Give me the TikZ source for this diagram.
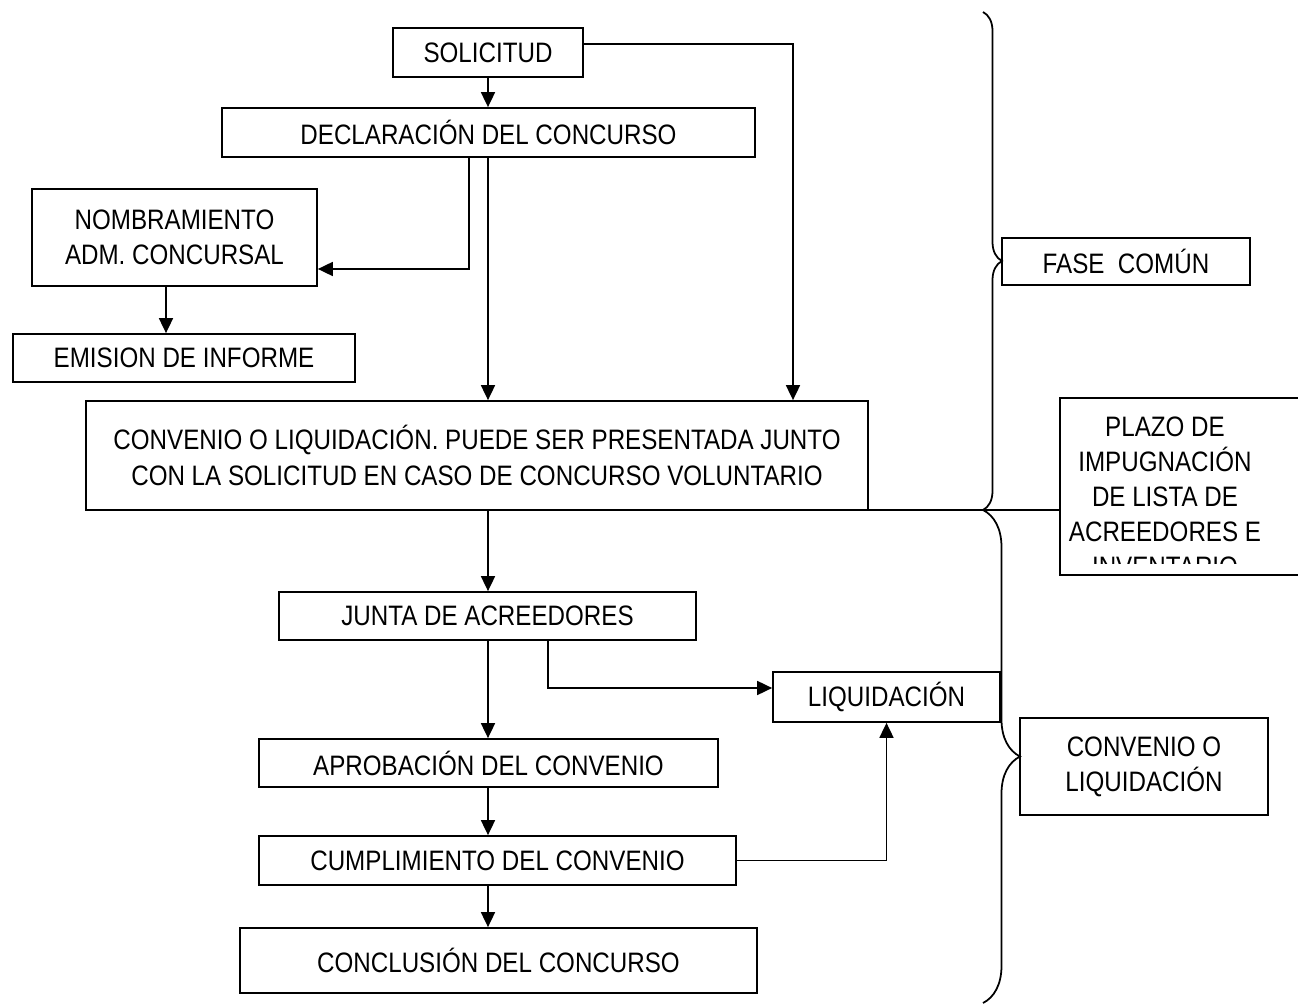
\documentclass[tikz,border=0pt]{standalone}
\usepackage{fontspec}
\setmainfont{Liberation Sans}[FakeStretch=0.86]
\usetikzlibrary{arrows.meta,decorations.pathreplacing}

\begin{document}
\begin{tikzpicture}[x=0.02cm,y=-0.02cm,
		caja/.style={draw,line width=1pt,inner sep=0pt,align=center,font=\fontsize{16}{20}\selectfont},
		flecha/.style={line width=1pt,-{Triangle[length=0.3cm,width=0.28cm]}},
		linea/.style={line width=1pt},
		llave/.style={line width=1pt,decorate,decoration={brace,amplitude=#1}}]
	\useasboundingbox (0,0) rectangle (1298,1006);
	\node[caja,minimum width=3.8cm,minimum height=0.98cm] (sol) at (488,52.5) {SOLICITUD};
	\node[caja,minimum width=10.66cm,minimum height=0.98cm] (decl) at (488.5,132.5) {DECLARACIÓN DEL CONCURSO};
	\node[caja,minimum width=5.7cm,minimum height=1.94cm] (nomb) at (174.5,237.5) {NOMBRAMIENTO\\ADM. CONCURSAL};
	\node[caja,minimum width=6.84cm,minimum height=0.96cm] (emis) at (184,358) {EMISION DE INFORME};
	\node[caja,minimum width=15.64cm,minimum height=2.18cm] (conv) at (477,455.5) {CONVENIO O LIQUIDACIÓN. PUEDE SER PRESENTADA JUNTO\\CON LA SOLICITUD EN CASO DE CONCURSO VOLUNTARIO};
	\node[caja,minimum width=8.34cm,minimum height=0.96cm] (junta) at (487.5,616) {JUNTA DE ACREEDORES};
	\node[caja,minimum width=4.54cm,minimum height=1cm] (liq) at (886.5,697) {LIQUIDACIÓN};
	\node[caja,minimum width=9.18cm,minimum height=0.96cm] (aprob) at (488.5,763) {APROBACIÓN DEL CONVENIO};
	\node[caja,minimum width=9.54cm,minimum height=0.98cm] (cumpl) at (497.5,860.5) {CUMPLIMIENTO DEL CONVENIO};
	\node[caja,minimum width=10.34cm,minimum height=1.3cm] (concl) at (498.5,960.5) {CONCLUSIÓN DEL CONCURSO};
	\node[caja,minimum width=4.96cm,minimum height=0.94cm] (fase) at (1126,261.5) {FASE\ \ COMÚN};
	\node[caja,minimum width=4.96cm,minimum height=1.94cm] (fconv) at (1144,766.5) {CONVENIO O\\LIQUIDACIÓN};
	\node[caja,minimum width=5cm,minimum height=3.54cm] (plazo) at (1185,486.5) {};
	\begin{scope}
		\clip (1060,398) rectangle (1298,563);
		\node[caja,draw=none] (plazotxt) at (1165,497) {PLAZO DE\\IMPUGNACIÓN\\DE LISTA DE\\ACREEDORES E\\INVENTARIO};
	\end{scope}
	\coordinate (c1) at (793,44);
	\coordinate (c2) at (469,269);
	\coordinate (c3) at (166,0);
	\coordinate (c4) at (548,688);
	\coordinate (c5) at (830,510);
	\coordinate (c6) at (488,0);
	\draw[flecha] (c6 |- sol.south) -- (c6 |- decl.north);
	\draw[flecha] (sol.east |- c1) -- (c1) -- (c1 |- conv.north);
	\draw[flecha] (c2 |- decl.south) -- (c2) -- (nomb.east |- c2);
	\draw[flecha] (c6 |- decl.south) -- (c6 |- conv.north);
	\draw[flecha] (c3 |- nomb.south) -- (c3 |- emis.north);
	\draw[flecha] (c6 |- conv.south) -- (c6 |- junta.north);
	\draw[flecha] (c4 |- junta.south) -- (c4) -- (liq.west |- c4);
	\draw[flecha] (c6 |- junta.south) -- (c6 |- aprob.north);
	\draw[flecha] (c6 |- aprob.south) -- (c6 |- cumpl.north);
	\draw[flecha] (c6 |- cumpl.south) -- (c6 |- concl.north);
	\draw[flecha] (cumpl.east) -| (liq.south);
	\draw[linea] (c5) -- (c5 -| plazo.west);
	\draw[llave=0.38cm] (983,12) -- (983,510);
	\draw[llave=0.74cm] (983,510) -- (983,1003);
\end{tikzpicture}
\end{document}
